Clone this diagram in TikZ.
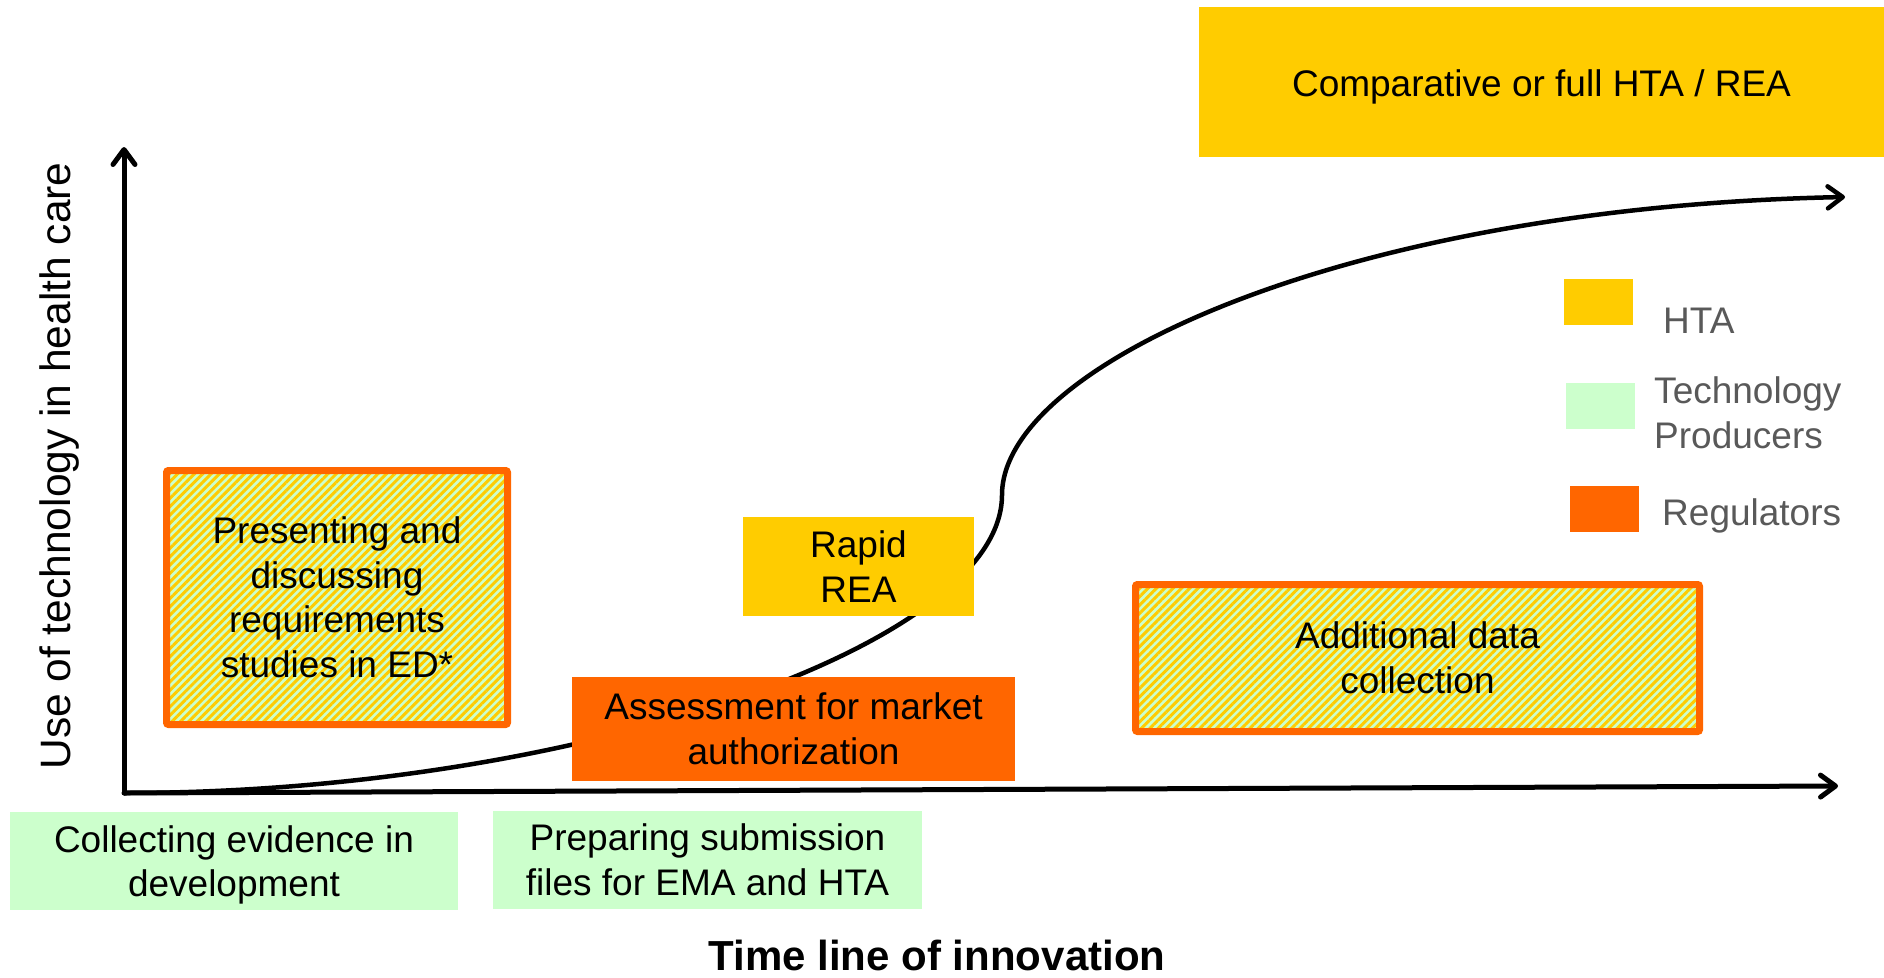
\documentclass[tikz,border=0pt]{standalone}
\usepackage{fontspec}
\setmainfont{Liberation Sans}
\usetikzlibrary{arrows.meta,patterns.meta}
\definecolor{htayel}{HTML}{FFCC00}
\definecolor{regorange}{HTML}{FF6600}
\definecolor{prodgreen}{HTML}{CCFFCC}
\definecolor{leggray}{HTML}{595959}
\newcommand{\boxfont}{\fontsize{37}{44.5}\selectfont}

\begin{document}
\begin{tikzpicture}[x=1pt,y=-1pt,>={Straight Barb[length=15pt,width=22pt,round]},
  every node/.style={inner sep=0pt,align=center,font=\boxfont},
  hta/.style={fill=htayel},
  prod/.style={fill=prodgreen},
  reg/.style={fill=regorange},
  mixed/.style={draw=regorange,line width=7pt,rounded corners=2pt,preaction={fill=prodgreen},
    preaction={pattern={Lines[angle=45,distance=5.9pt,line width=3pt]},pattern color=htayel}},
  legbox/.style={minimum width=69pt,minimum height=46pt},
  legtext/.style={anchor=base west,text=leggray,align=left}]
  \useasboundingbox (0,0) rectangle (1884,977);
  \coordinate (o)    at (124,793);
  \coordinate (ytip) at (124,147);
  \coordinate (xtip) at (1838,786);
  \coordinate (mid)  at (1002,495);
  \coordinate (ctip) at (1845,197);
  \draw[->,line width=5pt,line cap=round] (o) -- (ytip);
  \draw[->,line width=5pt,line cap=round] (o) -- (xtip);
  \draw[->,line width=4.5pt] (o) .. controls +(450,0) and +(0,150) .. (mid)
    .. controls +(0,-130) and +(-500,10) .. (ctip);
  \node[hta]   (comp)    at (1541.5,82)  [minimum width=685pt,minimum height=150pt,text height=37pt] {Comparative or full HTA / REA};
  \node[mixed] (pres)    at (337,597.5)  [minimum width=341pt,minimum height=254pt] {Presenting and\\discussing\\requirements\\studies in ED*};
  \node[hta]   (rapid)   at (858.5,566.5) [minimum width=231pt,minimum height=99pt] {Rapid\\REA};
  \node[reg]   (assess)  at (793.5,729)  [minimum width=443pt,minimum height=104pt] {Assessment for market\\authorization};
  \node[mixed] (addl)    at (1417.5,658) [minimum width=564pt,minimum height=147pt] {Additional data\\collection};
  \node[prod]  (collect) at (234,861)    [minimum width=448pt,minimum height=98pt,text depth=0pt] {Collecting evidence in\\development};
  \node[prod]  (prep)    at (707.5,860)  [minimum width=429pt,minimum height=98pt] {Preparing submission\\files for EMA and HTA};
  \node[hta,legbox]  (lh) at (1598.5,302) {};
  \node[prod,legbox] (lp) at (1600.5,406) {};
  \node[reg,legbox]  (lr) at (1604.5,509) {};
  \node[legtext] (lhtext) at (1663,333) {HTA};
  \node[legtext] (lptext) at (1654,448) {Technology\\Producers};
  \node[legtext] (lrtext) at (1662,525.5) {Regulators};
  \node[anchor=base,font=\fontsize{42}{50}\selectfont\bfseries] (title) at (937,970) {Time line of innovation};
  \node[rotate=90,anchor=base,font=\fontsize{42.5}{50}\selectfont] (ylab) at (70,466) {Use of technology in health care};
\end{tikzpicture}
\end{document}
